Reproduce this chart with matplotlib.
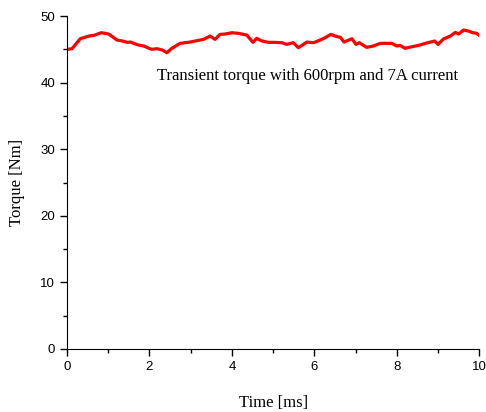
import matplotlib.pyplot as plt

## Dados
tempo = [0.0, 0.12, 0.32, 0.53, 0.65, 0.83, 1.01, 1.21, 1.38, 1.46, 1.54, 1.70, 1.86,
         2.05, 2.18, 2.31, 2.42, 2.54, 2.74, 2.99, 3.15, 3.31, 3.47, 3.59, 3.71, 3.83,
         4.00, 4.16, 4.36, 4.51, 4.60, 4.73, 4.89, 5.05, 5.21, 5.33, 5.49, 5.61, 5.82,
         5.98, 6.14, 6.26, 6.40, 6.50, 6.63, 6.72, 6.91, 7.01, 7.09, 7.27, 7.43, 7.60,
         7.88, 8.00, 8.08, 8.20, 8.37, 8.53, 8.69, 8.92, 9.00, 9.13, 9.30, 9.42, 9.50,
         9.62, 9.74, 9.84, 9.94, 10.0]
torque = [45.0, 45.1, 46.6, 47.0, 47.1, 47.5, 47.3, 46.4, 46.2, 46.05, 46.1, 45.7, 45.5,
          45.0, 45.1, 44.9, 44.5, 45.15, 45.9, 46.1, 46.3, 46.5, 47.0, 46.5, 47.25, 47.3,
          47.5, 47.4, 47.15, 46.05, 46.65, 46.25, 46.05, 46.05, 46.0, 45.75, 46.0, 45.25, 46.1,
          46.0, 46.4, 46.75, 47.25, 47.0, 46.8, 46.1, 46.6, 45.75, 46.0, 45.3, 45.5, 45.9,
          45.9, 45.5, 45.6, 45.15, 45.4, 45.6, 45.9, 46.25, 45.75, 46.55, 47.0, 47.55, 47.3,
          47.9, 47.75, 47.5, 47.4, 47.1]

fig = plt.figure(figsize=(4.86, 4.12), dpi=100)
ax = fig.add_axes([0.138, 0.153, 0.848, 0.808])

ax.plot(tempo, torque, color='red', linewidth=2.3)

ax.set_xlim(0, 10)
ax.set_ylim(0, 50)
ax.set_xticks([0, 2, 4, 6, 8, 10])
ax.set_yticks([0, 10, 20, 30, 40, 50])
ax.set_xticks([1, 3, 5, 7, 9], minor=True)
ax.set_yticks([5, 15, 25, 35, 45], minor=True)
ax.tick_params(which='major', direction='out', length=5, width=1, labelsize=9.5)
ax.tick_params(which='minor', direction='out', length=3, width=1)
for lbl in ax.get_xticklabels() + ax.get_yticklabels():
    lbl.set_family('Liberation Sans')

ax.spines['top'].set_visible(False)
ax.spines['right'].set_visible(False)

ax.set_xlabel('Time [ms]', family='Liberation Serif', fontsize=12, labelpad=16)
ax.set_ylabel('Torque [Nm]', family='Liberation Serif', fontsize=12, labelpad=11)

ax.text(5.84, 41.0, 'Transient torque with 600rpm and 7A current',
        family='Liberation Serif', fontsize=12, ha='center', va='center')

fig.savefig('out.png', dpi=100)
